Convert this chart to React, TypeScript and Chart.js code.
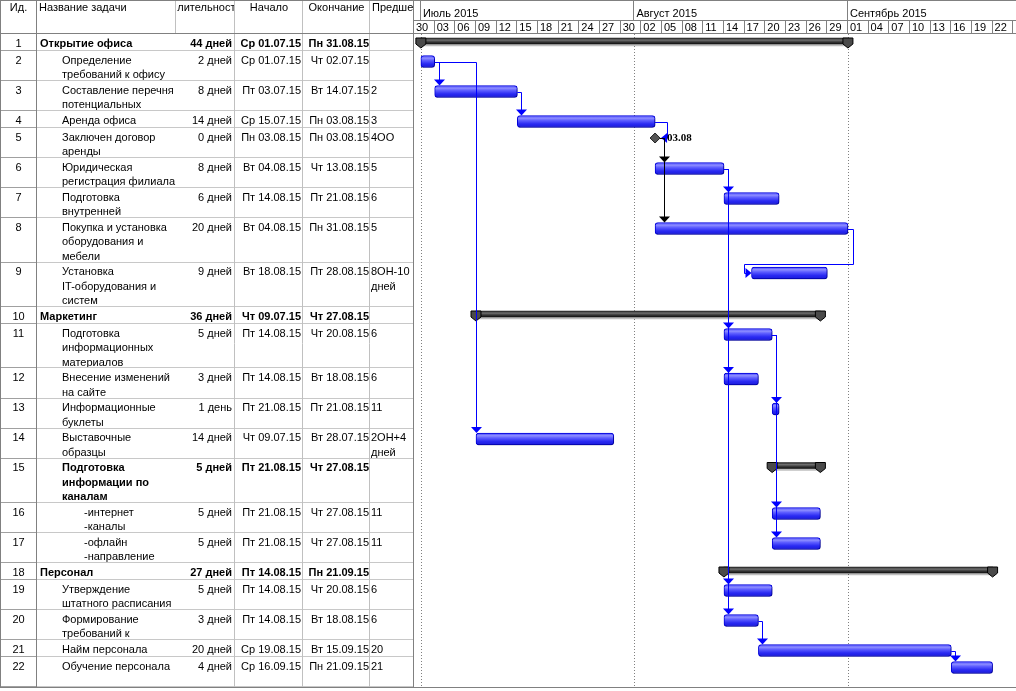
import React, { useEffect, useRef } from 'react';
import { Chart, registerables } from 'chart.js';

Chart.register(...registerables);

// ---------------- data ----------------
const taskNames = [
  'Открытие офиса',
  'Определение\nтребований к офису',
  'Составление перечня\nпотенциальных',
  'Аренда офиса',
  'Заключен договор\nаренды',
  'Юридическая\nрегистрация филиала',
  'Подготовка\nвнутренней',
  'Покупка и установка\nоборудования и\nмебели',
  'Установка\nIT-оборудования и\nсистем',
  'Маркетинг',
  'Подготовка\nинформационных\nматериалов',
  'Внесение изменений\nна сайте',
  'Информационные\nбуклеты',
  'Выставочные\nобразцы',
  'Подготовка\nинформации по\nканалам',
  '-интернет\n-каналы',
  '-офлайн\n-направление',
  'Персонал',
  'Утверждение\nштатного расписания',
  'Формирование\nтребований к',
  'Найм персонала',
  'Обучение персонала',
];
const outlineLevels = [0, 1, 1, 1, 1, 1, 1, 1, 1, 0, 1, 1, 1, 1, 1, 2, 2, 0, 1, 1, 1, 1];
const rowLines = [1, 2, 2, 1, 2, 2, 2, 3, 3, 1, 3, 2, 2, 2, 3, 2, 2, 1, 2, 2, 1, 2];
const durations = [
  '44 дней', '2 дней', '8 дней', '14 дней', '0 дней', '8 дней', '6 дней', '20 дней', '9 дней',
  '36 дней', '5 дней', '3 дней', '1 день', '14 дней', '5 дней', '5 дней', '5 дней',
  '27 дней', '5 дней', '3 дней', '20 дней', '4 дней',
];
const startDates = [
  'Ср 01.07.15', 'Ср 01.07.15', 'Пт 03.07.15', 'Ср 15.07.15', 'Пн 03.08.15', 'Вт 04.08.15',
  'Пт 14.08.15', 'Вт 04.08.15', 'Вт 18.08.15', 'Чт 09.07.15', 'Пт 14.08.15', 'Пт 14.08.15',
  'Пт 21.08.15', 'Чт 09.07.15', 'Пт 21.08.15', 'Пт 21.08.15', 'Пт 21.08.15', 'Пт 14.08.15',
  'Пт 14.08.15', 'Пт 14.08.15', 'Ср 19.08.15', 'Ср 16.09.15',
];
const endDates = [
  'Пн 31.08.15', 'Чт 02.07.15', 'Вт 14.07.15', 'Пн 03.08.15', 'Пн 03.08.15', 'Чт 13.08.15',
  'Пт 21.08.15', 'Пн 31.08.15', 'Пт 28.08.15', 'Чт 27.08.15', 'Чт 20.08.15', 'Вт 18.08.15',
  'Пт 21.08.15', 'Вт 28.07.15', 'Чт 27.08.15', 'Чт 27.08.15', 'Чт 27.08.15', 'Пн 21.09.15',
  'Чт 20.08.15', 'Вт 18.08.15', 'Вт 15.09.15', 'Пн 21.09.15',
];
const predecessors = [
  '', '', '2', '3', '4ОО', '5', '6', '5', '8ОН-10\nдней', '', '6', '6', '11', '2ОН+4\nдней',
  '', '11', '11', '', '6', '6', '20', '21',
];
const tableHeaders = ['Ид.', 'Название задачи', 'Длительность', 'Начало', 'Окончание', 'Предшественники'];
const monthLabels = ['Июль 2015', 'Август 2015', 'Сентябрь 2015'];
const monthStartDates = ['01.07.15', '01.08.15', '01.09.15'];
const dayTickLabels = [
  '30', '03', '06', '09', '12', '15', '18', '21', '24', '27', '30', '02', '05', '08', '11',
  '14', '17', '20', '23', '26', '29', '01', '04', '07', '10', '13', '16', '19', '22',
];
const timelineStart = '30.06.15';
const visibleDays = 87.4;

// ---------------- helpers ----------------
const parseDate = (s: string) => {
  const t = s.trim().split(' ').pop() as string;
  const [d, m, y] = t.split('.').map(Number);
  return Date.UTC(2000 + y, m - 1, d);
};
const ORIGIN = parseDate(timelineStart);
const dayIndex = (s: string) => Math.round((parseDate(s) - ORIGIN) / 86400000);

const N = taskNames.length;
const isSummary = (i: number) => i + 1 < N && outlineLevels[i + 1] > outlineLevels[i];
const isMilestone = (i: number) => parseInt(durations[i], 10) === 0;
const startVal = (i: number) => dayIndex(startDates[i]);
const endVal = (i: number) => dayIndex(endDates[i]) + 1;

const ROW_H: Record<number, number> = { 1: 17, 2: 30, 3: 44.5 };
const rowTops: number[] = [];
let accRows = 0;
rowLines.forEach((n) => {
  rowTops.push(accRows);
  accRows += ROW_H[n];
});
const totalRows = accRows;

const VIEW_W = 1016;
const VIEW_H = 691;
const OVER = 6; // extra canvas margin absorbing Chart.js point overflow padding
const HEADER_H = 34;
const TABLE_W = 414;
const COLS = [0, 37, 176, 235, 303, 370, 414];
const BAR_OFF = 10.5;
const SUM_OFF = 7;
const MS_OFF = 10;

const SANS = '"Liberation Sans", Arial, sans-serif';
const FONT = `11px ${SANS}`;
const FONT_B = `bold 11px ${SANS}`;

const idx = taskNames.map((_, i) => i);
const taskRows = idx.filter((i) => !isSummary(i) && !isMilestone(i));
const summaryRows = idx.filter((i) => isSummary(i));
const milestoneRows = idx.filter((i) => isMilestone(i));

const crisp = (v: number) => Math.round(v) + 0.5;

function geom(chart: any, i: number) {
  const xs = chart.scales.x;
  const ys = chart.scales.y;
  const rowTop = ys.getPixelForValue(rowTops[i]);
  if (isMilestone(i)) {
    const cx = xs.getPixelForValue(endVal(i));
    const cy = ys.getPixelForValue(rowTops[i] + MS_OFF);
    return { left: cx - 5, right: cx + 5, cx, cy, top: cy - 5, rowTop };
  }
  const summ = isSummary(i);
  const cy = ys.getPixelForValue(rowTops[i] + (summ ? SUM_OFF : BAR_OFF));
  return {
    left: xs.getPixelForValue(startVal(i)),
    right: xs.getPixelForValue(endVal(i)),
    cx: 0,
    cy,
    top: cy - (summ ? 3 : 6),
    rowTop,
  };
}

function drawTable(chart: any) {
  const ctx: CanvasRenderingContext2D = chart.ctx;
  const ys = chart.scales.y;
  const W = VIEW_W;
  ctx.save();
  ctx.fillStyle = '#ffffff';
  ctx.fillRect(0, 0, chart.width, chart.height);

  ctx.fillStyle = '#000';
  ctx.font = FONT;
  ctx.textBaseline = 'middle';
  const hy = 8;
  const cellClip = (x0: number, x1: number, y0: number, y1: number, fn: () => void) => {
    ctx.save();
    ctx.beginPath();
    ctx.rect(x0, y0, x1 - x0, y1 - y0);
    ctx.clip();
    fn();
    ctx.restore();
  };
  tableHeaders.forEach((h, c) => {
    const x0 = COLS[c];
    const x1 = COLS[c + 1];
    cellClip(x0 + 1, x1 - 1, 0, HEADER_H, () => {
      if (c === 1 || c === 5) {
        ctx.textAlign = 'left';
        ctx.fillText(h, x0 + 2, hy);
      } else {
        ctx.textAlign = 'center';
        ctx.fillText(h, (x0 + x1) / 2, hy);
      }
    });
  });

  rowLines.forEach((n, i) => {
    const top = ys.getPixelForValue(rowTops[i]);
    const bottom = ys.getPixelForValue(rowTops[i] + ROW_H[n]);
    const bold = isSummary(i);
    const ty = top + 9.5;
    const lh = 14.5;
    ctx.fillStyle = '#000';
    ctx.font = FONT;
    ctx.textAlign = 'center';
    ctx.fillText(String(i + 1), (COLS[0] + COLS[1]) / 2, ty);
    ctx.font = bold ? FONT_B : FONT;
    const indent = outlineLevels[i] === 0 ? 40 : outlineLevels[i] === 1 ? 62 : 84;
    cellClip(COLS[1] + 1, COLS[2], top, bottom, () => {
      ctx.textAlign = 'left';
      taskNames[i].split('\n').forEach((ln, k) => ctx.fillText(ln, indent, ty + k * lh));
    });
    ctx.textAlign = 'right';
    ctx.fillText(durations[i], COLS[3] - 3, ty);
    ctx.fillText(startDates[i], COLS[4] - 2, ty);
    ctx.fillText(endDates[i], COLS[5] - 1, ty);
    ctx.font = FONT;
    cellClip(COLS[5] + 1, COLS[6], top, bottom, () => {
      ctx.textAlign = 'left';
      predecessors[i].split('\n').forEach((ln, k) => ctx.fillText(ln, COLS[5] + 1, ty + k * lh));
    });
    ctx.strokeStyle = '#c8c8c8';
    ctx.lineWidth = 1;
    ctx.beginPath();
    ctx.moveTo(COLS[1], crisp(bottom) - 1);
    ctx.lineTo(TABLE_W, crisp(bottom) - 1);
    ctx.stroke();
    ctx.strokeStyle = '#a0a0a0';
    ctx.beginPath();
    ctx.moveTo(0, crisp(bottom) - 1);
    ctx.lineTo(COLS[1], crisp(bottom) - 1);
    ctx.stroke();
  });

  const bodyBottom = ys.getPixelForValue(totalRows);
  ctx.lineWidth = 1;
  [COLS[3], COLS[4], COLS[5]].forEach((x) => {
    ctx.strokeStyle = '#c0c0c0';
    ctx.beginPath();
    ctx.moveTo(crisp(x) - 1, 0);
    ctx.lineTo(crisp(x) - 1, bodyBottom);
    ctx.stroke();
  });
  ctx.strokeStyle = '#c0c0c0';
  ctx.beginPath();
  ctx.moveTo(crisp(COLS[2]) - 1, 0);
  ctx.lineTo(crisp(COLS[2]) - 1, HEADER_H);
  ctx.stroke();
  ctx.strokeStyle = '#808080';
  [0, COLS[1], TABLE_W].forEach((x) => {
    ctx.beginPath();
    ctx.moveTo(crisp(x) - (x === 0 ? 0 : 1), 0);
    ctx.lineTo(crisp(x) - (x === 0 ? 0 : 1), bodyBottom + 1);
    ctx.stroke();
  });
  ctx.strokeStyle = '#808080';
  ctx.beginPath();
  ctx.moveTo(0, HEADER_H - 0.5);
  ctx.lineTo(W, HEADER_H - 0.5);
  ctx.moveTo(0, crisp(bodyBottom));
  ctx.lineTo(W, crisp(bodyBottom));
  ctx.moveTo(0, 0.5);
  ctx.lineTo(W, 0.5);
  ctx.stroke();
  ctx.restore();
}

function drawTimescale(chart: any) {
  const ctx: CanvasRenderingContext2D = chart.ctx;
  const xs = chart.scales.x;
  const ys = chart.scales.y;
  const area = chart.chartArea;
  const tierY = 20;
  ctx.save();
  ctx.beginPath();
  ctx.rect(area.left, 0, area.right - area.left, chart.height);
  ctx.clip();
  ctx.font = FONT;
  ctx.textBaseline = 'middle';
  ctx.textAlign = 'left';
  ctx.fillStyle = '#000';
  ctx.strokeStyle = '#808080';
  ctx.lineWidth = 1;
  ctx.beginPath();
  ctx.moveTo(area.left, tierY + 0.5);
  ctx.lineTo(area.right, tierY + 0.5);
  ctx.stroke();
  monthLabels.forEach((m, k) => {
    const x = xs.getPixelForValue(dayIndex(monthStartDates[k]));
    ctx.beginPath();
    ctx.moveTo(crisp(x) - 1, 0);
    ctx.lineTo(crisp(x) - 1, tierY);
    ctx.stroke();
    ctx.fillText(m, x + 2, 13.5);
  });
  dayTickLabels.forEach((d, k) => {
    const x = xs.getPixelForValue(k * 3);
    const x2 = xs.getPixelForValue(k * 3 + 3);
    ctx.beginPath();
    ctx.moveTo(crisp(x2) - 1, tierY);
    ctx.lineTo(crisp(x2) - 1, HEADER_H);
    ctx.stroke();
    ctx.fillText(d, x + 2, 27.5);
  });
  ctx.setLineDash([1, 2]);
  ctx.strokeStyle = '#808080';
  const bottom = ys.getPixelForValue(totalRows);
  monthStartDates.forEach((ds) => {
    const x = xs.getPixelForValue(dayIndex(ds));
    ctx.beginPath();
    ctx.moveTo(crisp(x), HEADER_H);
    ctx.lineTo(crisp(x), bottom);
    ctx.stroke();
  });
  ctx.restore();
}

function drawCaps(chart: any) {
  const ctx: CanvasRenderingContext2D = chart.ctx;
  ctx.save();
  summaryRows.forEach((i) => {
    const g = geom(chart, i);
    [g.left, g.right].forEach((x) => {
      const t = g.top;
      ctx.beginPath();
      ctx.moveTo(x - 5, t);
      ctx.lineTo(x + 5, t);
      ctx.lineTo(x + 5, t + 6);
      ctx.lineTo(x, t + 10);
      ctx.lineTo(x - 5, t + 6);
      ctx.closePath();
      ctx.fillStyle = '#4a4a4a';
      ctx.fill();
      ctx.strokeStyle = '#000';
      ctx.lineWidth = 1;
      ctx.stroke();
    });
  });
  ctx.restore();
}

function drawLinks(chart: any) {
  const ctx: CanvasRenderingContext2D = chart.ctx;
  ctx.save();
  ctx.lineWidth = 1;
  const down = (x: number, tipY: number) => {
    ctx.beginPath();
    ctx.moveTo(x - 5.5, tipY - 6);
    ctx.lineTo(x + 5.5, tipY - 6);
    ctx.lineTo(x, tipY);
    ctx.closePath();
    ctx.fill();
  };
  predecessors.forEach((p, si) => {
    const m = /^(\d+)(ОО|ОН|НН|НО)?/.exec(p);
    if (!m) return;
    const pi = Number(m[1]) - 1;
    const kind = m[2] || 'ОН';
    const P = geom(chart, pi);
    const S = geom(chart, si);
    const color = isMilestone(pi) ? '#000000' : '#0000ff';
    ctx.strokeStyle = color;
    ctx.fillStyle = color;
    const py = crisp(P.cy);
    if (kind === 'ОО') {
      const xv = crisp(Math.max(P.right, S.right) + 7);
      const sy = crisp(S.cy);
      ctx.beginPath();
      ctx.moveTo(P.right, py);
      ctx.lineTo(xv, py);
      ctx.lineTo(xv, sy);
      ctx.stroke();
      const tip = S.right + 1;
      ctx.beginPath();
      ctx.moveTo(tip + 6, S.cy - 5);
      ctx.lineTo(tip + 6, S.cy + 5);
      ctx.lineTo(tip, S.cy);
      ctx.closePath();
      ctx.fill();
    } else if (startVal(si) >= endVal(pi)) {
      const x = crisp(startVal(si) > endVal(pi) ? S.left : P.right + 4);
      ctx.beginPath();
      ctx.moveTo(P.right, py);
      ctx.lineTo(x, py);
      ctx.lineTo(x, S.top - 5);
      ctx.stroke();
      down(x, S.top);
    } else {
      const xr = crisp(P.right + 5);
      const yh = crisp(S.rowTop + 1);
      const xl = crisp(S.left - 8);
      const sy = S.cy;
      ctx.beginPath();
      ctx.moveTo(P.right, py);
      ctx.lineTo(xr, py);
      ctx.lineTo(xr, yh);
      ctx.lineTo(xl, yh);
      ctx.lineTo(xl, crisp(sy));
      ctx.lineTo(S.left - 5, crisp(sy));
      ctx.stroke();
      ctx.beginPath();
      ctx.moveTo(S.left - 6, sy - 5);
      ctx.lineTo(S.left - 6, sy + 5);
      ctx.lineTo(S.left, sy);
      ctx.closePath();
      ctx.fill();
    }
  });
  ctx.fillStyle = '#000';
  ctx.font = 'bold 11px "Liberation Serif", "Times New Roman", serif';
  ctx.textAlign = 'left';
  ctx.textBaseline = 'middle';
  milestoneRows.forEach((i) => {
    const g = geom(chart, i);
    const lbl = (endDates[i].split(' ').pop() as string).slice(0, 5);
    ctx.fillText(lbl, g.cx + 12, g.cy);
  });
  ctx.restore();
}

const ganttPlugin = {
  id: 'ganttDecor',
  beforeDraw(chart: any) {
    drawTable(chart);
    drawTimescale(chart);
  },
  beforeDatasetDraw(chart: any, args: any) {
    if (args.index === 0 || args.index === 1) {
      const ctx = chart.ctx;
      ctx.save();
      ctx.shadowColor = 'rgba(0,0,0,0.25)';
      ctx.shadowOffsetX = 1;
      ctx.shadowOffsetY = 2;
      ctx.shadowBlur = 0;
    }
  },
  afterDatasetDraw(chart: any, args: any) {
    if (args.index === 0 || args.index === 1) chart.ctx.restore();
  },
  afterDatasetsDraw(chart: any) {
    drawCaps(chart);
    drawLinks(chart);
  },
};

function gradFor(c: any, half: number, stops: [number, string][], fallback: string) {
  const chart = c && c.chart;
  if (!chart || c.type !== 'data' || !c.raw || !chart.scales || !chart.scales.y) return fallback;
  const y = chart.scales.y.getPixelForValue(c.raw.y);
  if (!Number.isFinite(y)) return fallback;
  const g = chart.ctx.createLinearGradient(0, y - half, 0, y + half);
  stops.forEach(([o, col]) => g.addColorStop(o, col));
  return g;
}
const taskFill = (c: any) =>
  gradFor(c, 6, [[0, '#3a3aff'], [0.22, '#8e8eff'], [0.42, '#5c5cff'], [0.7, '#2a2af2'], [1, '#1a1ada']], '#3c3cff');
const summaryFill = (c: any) =>
  gradFor(c, 3, [[0, '#202020'], [0.35, '#707070'], [0.65, '#3a3a3a'], [1, '#101010']], '#404040');

export default function App() {
  const ref = useRef<HTMLCanvasElement | null>(null);
  useEffect(() => {
    if (!ref.current) return;
    const chart = new Chart(ref.current, {
      type: 'bar',
      data: {
        datasets: [
          {
            type: 'bar',
            label: 'Задачи',
            indexAxis: 'y',
            data: taskRows.map((i) => ({ x: [startVal(i), endVal(i)], y: rowTops[i] + BAR_OFF })),
            backgroundColor: taskFill,
            borderColor: '#0000d8',
            borderWidth: 1,
            borderRadius: 3,
            borderSkipped: false,
            barThickness: 12,
            grouped: false,
          },
          {
            type: 'bar',
            label: 'Суммарные задачи',
            indexAxis: 'y',
            data: summaryRows.map((i) => ({ x: [startVal(i), endVal(i)], y: rowTops[i] + SUM_OFF })),
            backgroundColor: summaryFill,
            borderColor: '#000000',
            borderWidth: 0,
            borderSkipped: false,
            barThickness: 6,
            grouped: false,
          },
          {
            type: 'scatter',
            label: 'Вехи',
            data: milestoneRows.map((i) => ({ x: endVal(i), y: rowTops[i] + MS_OFF })),
            pointStyle: 'rectRot',
            pointRadius: 5,
            backgroundColor: '#555555',
            borderColor: '#222222',
            borderWidth: 1,
          } as any,
        ],
      },
      options: {
        indexAxis: 'y',
        responsive: false,
        animation: false,
        events: [],
        layout: {
          padding: { left: TABLE_W, top: HEADER_H, right: OVER, bottom: VIEW_H + OVER - HEADER_H - totalRows },
        },
        plugins: { legend: { display: false }, tooltip: { enabled: false } },
        scales: {
          x: { type: 'linear', min: 0, max: visibleDays, display: false, offset: false },
          y: { type: 'linear', min: 0, max: totalRows, reverse: true, display: false, offset: false },
        },
      } as any,
      plugins: [ganttPlugin],
    });
    return () => chart.destroy();
  }, []);
  return (
    <div
      style={{
        position: 'fixed',
        left: 0,
        top: 0,
        width: VIEW_W,
        height: VIEW_H,
        overflow: 'hidden',
        background: '#fff',
      }}
    >
      <canvas ref={ref} width={VIEW_W + OVER} height={VIEW_H + OVER} style={{ display: 'block' }} />
    </div>
  );
}
